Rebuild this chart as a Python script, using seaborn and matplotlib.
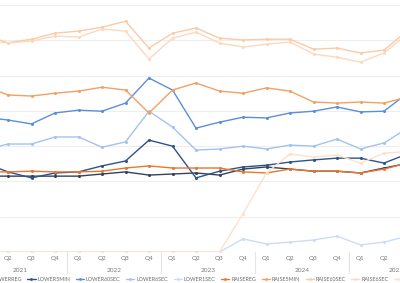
import matplotlib
matplotlib.use("Agg")
import pandas as pd
import matplotlib.pyplot as plt
from matplotlib.lines import Line2D
from matplotlib import transforms
import seaborn as sns

# Quarterly periods, 2021 Q1 .. 2025 Q3
periods = ["Q1", "Q2", "Q3", "Q4",
           "Q1", "Q2", "Q3", "Q4",
           "Q1", "Q2", "Q3", "Q4",
           "Q1", "Q2", "Q3", "Q4",
           "Q1", "Q2", "Q3"]
years = ["2021", "2022", "2023", "2024", "2025"]

series_names = ["LOWERREG", "LOWER5MIN", "LOWER60SEC", "LOWER6SEC", "LOWER1SEC",
                "RAISEREG", "RAISE5MIN", "RAISE60SEC", "RAISE6SEC", "RAISE1SEC"]

lowerreg = [21.5, 21.5, 21.5, 21.5, 21.5, 22.1, 22.7, 21.8, 22.1, 22.4,
            21.8, 23.5, 24.1, 23.5, 22.9, 22.9, 22.4, 23.8, 25.1]
lower5min = [25.2, 22.7, 21.0, 22.4, 22.7, 24.4, 25.8, 31.7, 30.0, 21.0,
             22.9, 24.1, 24.6, 25.5, 26.1, 26.6, 26.6, 25.2, 27.8]
lower60sec = [38.2, 37.4, 36.3, 39.4, 40.2, 39.9, 42.2, 49.3, 45.9, 35.1,
              36.8, 38.2, 38.0, 39.4, 39.9, 41.1, 39.7, 39.9, 45.0]
lower6sec = [28.9, 30.6, 30.6, 32.6, 32.6, 29.7, 31.2, 39.9, 35.4, 28.9,
             29.2, 30.0, 29.2, 30.3, 30.0, 32.0, 29.2, 30.9, 35.1]
lower1sec = [0, 0, 0, 0, 0, 0, 0, 0, 0, 0,
             0, 3.7, 2.3, 2.8, 3.4, 4.5, 2.0, 2.8, 4.5]
raisereg = [22.7, 22.7, 22.9, 22.7, 22.7, 22.9, 23.8, 24.4, 23.8, 23.8,
            23.8, 22.7, 22.4, 23.5, 22.9, 22.9, 22.4, 23.5, 25.2]
raise5min = [47.0, 44.5, 44.2, 45.0, 45.6, 46.7, 45.9, 39.4, 45.9, 47.9,
             45.6, 45.0, 46.5, 45.6, 42.5, 42.2, 42.5, 42.2, 43.9]
raise60sec = [61.5, 59.3, 60.3, 62.0, 62.6, 63.7, 65.4, 57.8, 62.0, 63.5,
              60.6, 60.1, 60.3, 60.3, 57.5, 57.8, 56.4, 57.2, 62.8]
raise6sec = [60.1, 59.2, 59.8, 61.2, 60.9, 63.2, 62.6, 54.7, 60.6, 62.3,
             59.2, 58.1, 58.9, 59.5, 56.1, 55.2, 53.8, 56.4, 61.9]
raise1sec = [0, 0, 0, 0, 0, 0, 0, 0, 0, 0,
             0, 10.8, 22.4, 27.8, 26.9, 27.5, 25.2, 28.0, 28.5]

colors = ["#34425a", "#2f5288", "#5b8fd9", "#a3c3ef", "#cddcf4",
          "#e8772e", "#f2a162", "#f9cba7", "#fcd9bd", "#fde1cb"]

all_values = [lowerreg, lower5min, lower60sec, lower6sec, lower1sec,
              raisereg, raise5min, raise60sec, raise6sec, raise1sec]

rows = []
for name, vals in zip(series_names, all_values):
    for i, v in enumerate(vals):
        rows.append({"period": i, "series": name, "value": v})
df = pd.DataFrame(rows)
palette = dict(zip(series_names, colors))

sns.set_style("white")
plt.rcParams['font.family'] = ['Lato', 'DejaVu Sans']

fig = plt.figure(figsize=(4.0, 2.83), dpi=100)
# plot area runs past the picture edges (the reference is a cropped screenshot)
ax = fig.add_axes([0.0, 31 / 283, 1.0, 247 / 283])

sns.lineplot(data=df, x="period", y="value", hue="series", hue_order=series_names,
             palette=palette, marker="o", markersize=2.2, markeredgewidth=0,
             linewidth=1.0, legend=False, sort=False, ax=ax)

ax.set_yticks(range(0, 71, 10))
ax.yaxis.grid(True, color="#eeeeee", linewidth=0.8)
ax.set_axisbelow(True)
ax.tick_params(axis="y", left=False, labelleft=False)
ax.set_xticks(range(len(periods)))
ax.set_xticklabels(periods, fontsize=4.6, color="#7a7a7a")
ax.tick_params(axis="x", length=0, pad=3.2)
ax.set_xlabel("")
ax.set_ylabel("")
for s in ax.spines.values():
    s.set_visible(False)

# year row and separators of the hierarchical axis
trans = transforms.blended_transform_factory(ax.transData, ax.transAxes)
for k, yr in enumerate(years):
    ax.text(4 * k + 1.5, -0.073, yr, transform=trans, ha="center", va="center",
            fontsize=4.6, color="#7a7a7a", clip_on=False)
    if k > 0:
        ax.plot([4 * k - 0.5, 4 * k - 0.5], [0, -0.087], transform=trans,
                color="#e4e4e4", linewidth=0.8, clip_on=False)

# limits last, so the crop is kept
ax.set_xlim((0 + 15.5) / 23.5, (400 + 15.5) / 23.5)
ax.set_ylim(0, 70)

handles = [Line2D([0], [0], color=c, linewidth=1.0, marker="o", markersize=2,
                  markeredgewidth=0) for c in colors]
fig.legend(handles, series_names, loc="center left", bbox_to_anchor=(-0.05, 0.013),
           ncol=len(series_names), frameon=False, fontsize=3.9, labelcolor="#6a6a6a",
           handlelength=1.5, handletextpad=0.35, columnspacing=1.05, borderaxespad=0)

fig.savefig("out.png", dpi=100, facecolor="white")
plt.close(fig)
